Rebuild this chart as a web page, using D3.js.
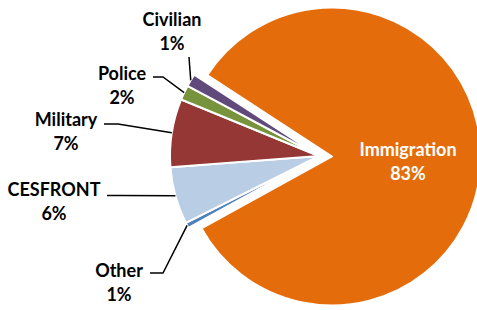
<!DOCTYPE html>
<html>
<head>
<meta charset="utf-8">
<script src="https://cdn.jsdelivr.net/npm/d3@7"></script>
<style>
  html, body { margin: 0; padding: 0; background: #fff; }
  svg { display: block; }
  text { font-family: Lato, "Open Sans", sans-serif; font-weight: bold; }
</style>
</head>
<body>
<script>
// ---- data ----
const categories = ["Immigration", "Other", "CESFRONT", "Military", "Police", "Civilian"];
const values = [82.8, 0.6, 6.2, 7.4, 1.6, 1.4];
const colors = ["#E46C0A", "#4F81BD", "#B9CDE5", "#953735", "#77933C", "#604A7B"];
const exploded = ["Immigration"];

// ---- layout ----
const W = 477, H = 310;
const cx = 319, cy = 156, R = 149, explode = 13;
const startDeg = -56.9;
const fontSize = 18, lineH = 24;

// label layout: text center x, first baseline y, leader start and elbow
const labelLayout = {
  Immigration: { x: 408, y: 156, inside: true },
  Other:      { x: 119, y: 277, lead: [[150, 273], [163, 273]] },
  CESFRONT:   { x: 54,  y: 196, lead: [[107, 195.5], [120, 195.5]] },
  Military:   { x: 66,  y: 126, lead: [[104, 124], [118, 124]] },
  Police:     { x: 122, y: 80,  lead: [[153, 77], [163, 77]] },
  Civilian:   { x: 172, y: 26,  lead: [[189, 57]] }
};

const svg = d3.select("body").append("svg").attr("width", W).attr("height", H);

const total = d3.sum(values);
const data = categories.map((c, i) => ({ name: c, value: values[i], color: colors[i] }));
const a0 = startDeg * Math.PI / 180;
const pie = d3.pie().value(d => d.value).sort(null).startAngle(a0).endAngle(a0 + 2 * Math.PI);
const arcs = pie(data);
const arc = d3.arc().innerRadius(0).outerRadius(R);

const g = svg.append("g").attr("transform", `translate(${cx},${cy})`);

function offsetOf(d) {
  if (!exploded.includes(d.data.name)) return [0, 0];
  const m = (d.startAngle + d.endAngle) / 2;
  return [explode * Math.sin(m), -explode * Math.cos(m)];
}

g.selectAll("path.slice").data(arcs).join("path")
  .attr("class", "slice")
  .attr("d", arc)
  .attr("transform", d => { const o = offsetOf(d); return `translate(${o[0]},${o[1]})`; })
  .attr("fill", d => d.data.color)
  .attr("stroke", "#fff")
  .attr("stroke-width", 2)
  .attr("stroke-linejoin", "round");

const pct = d => Math.round(d.value / total * 100 + 1e-9) + "%";

// leader lines
arcs.forEach(d => {
  const L = labelLayout[d.data.name];
  if (!L || L.inside) return;
  const m = (d.startAngle + d.endAngle) / 2;
  const o = offsetOf(d);
  const end = [cx + o[0] + R * Math.sin(m), cy + o[1] - R * Math.cos(m)];
  const pts = L.lead.concat([end]);
  svg.append("path")
    .attr("d", d3.line()(pts))
    .attr("fill", "none")
    .attr("stroke", "#000")
    .attr("stroke-width", 1.5);
});

// labels
arcs.forEach(d => {
  const L = labelLayout[d.data.name];
  const t = svg.append("text")
    .attr("text-anchor", "middle")
    .attr("font-size", fontSize)
    .attr("fill", L.inside ? "#fff" : "#000");
  t.append("tspan").attr("x", L.x).attr("y", L.y).text(d.data.name);
  t.append("tspan").attr("x", L.x).attr("y", L.y + lineH).text(pct(d.data));
});
</script>
</body>
</html>
